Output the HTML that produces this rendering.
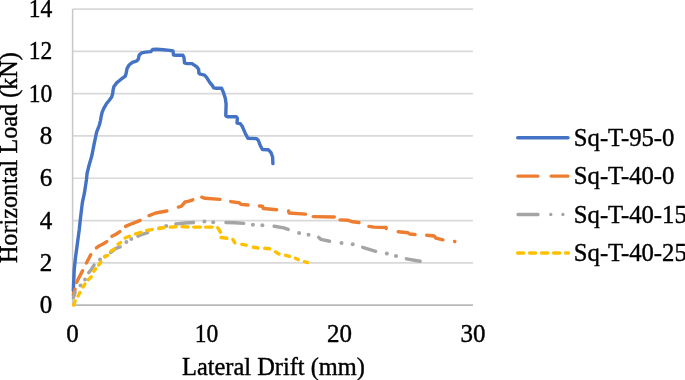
<!DOCTYPE html>
<html><head><meta charset="utf-8"><style>
html,body{margin:0;padding:0;background:#fff;}
svg{display:block;will-change:transform;}
text{font-family:"Liberation Serif",serif;font-size:25px;fill:#000;stroke:#000;stroke-width:0.4px;}
</style></head><body>
<svg width="685" height="380" viewBox="0 0 685 380">
<rect width="685" height="380" fill="#fff"/>
<g stroke="#d9d9d9" stroke-width="1.7"><line x1="72.6" y1="262.81" x2="472.9" y2="262.81"/><line x1="72.6" y1="220.53" x2="472.9" y2="220.53"/><line x1="72.6" y1="178.24" x2="472.9" y2="178.24"/><line x1="72.6" y1="135.96" x2="472.9" y2="135.96"/><line x1="72.6" y1="93.67" x2="472.9" y2="93.67"/><line x1="72.6" y1="51.39" x2="472.9" y2="51.39"/><line x1="72.6" y1="9.10" x2="472.9" y2="9.10"/></g>
<line x1="72.6" y1="305.1" x2="472.9" y2="305.1" stroke="#b8b8b8" stroke-width="1.75"/>
<line x1="72.6" y1="9.1" x2="72.6" y2="305.1" stroke="#c8c8c8" stroke-width="1.5"/>
<g fill="none" stroke-width="3.4" stroke-linejoin="round">
<polyline stroke="#4472c4" stroke-linecap="round" points="73.3,290.5 73.4,288.7 74.2,270 75.5,257.4 77.1,245.8 79.2,230 80.2,220.8 81.1,212.9 82.4,202.4 84.4,193.2 86.4,180 87.1,173.4 89,165.5 91.7,156.3 94.3,143.2 95.1,139.5 96.6,132.1 98.2,128.2 99.5,124.5 100.5,120.3 101.2,116.3 102.1,112.4 103.8,108.4 106.4,103.8 109.5,100 111.8,96.8 112.7,93.5 113.1,90 113.8,86.8 116.6,82.9 120.5,79.7 125.3,76.2 126.4,72.2 127.1,68.3 129.1,65 132.4,62.4 137,60.8 138.3,59.1 139.2,55.1 141.6,52.9 145.5,52.1 150.8,51.6 152.6,49.5 156.6,49.3 163.2,49.7 169.7,50.4 173,51 173.5,55 176.3,55.2 182.9,55.2 184,57.6 184.5,62.9 186.8,63.6 192.1,63.6 194.7,65.5 196.6,66.6 198.6,69.2 198.9,73.2 200.5,74.2 204.5,75.1 206.4,77.1 209.7,82.4 212.4,85.7 213.7,87.9 216.3,88.3 221.6,88.3 223.6,92.9 225.3,98.2 226.1,103.9 225.8,115.8 227.1,116.7 236.3,116.7 237.4,118.4 237,123 240.3,123.7 242.2,126.3 244.2,130.9 245.9,134.6 247.9,138.2 256.4,138.6 258.4,140.5 260.4,145.8 262.4,149.5 268.3,149.7 270.9,152.4 272.6,157 272.9,163.6"/>
</g>
<g stroke="#ed7d31" stroke-width="3.4" fill="none" stroke-linecap="round" stroke-linejoin="round"><polyline points="73.35,294.65 75.05,289.15"/><polyline points="76.54,282.43 79.50,276.50 82.63,270.66"/><polyline points="86.37,262.94 88.50,259.00 90.65,254.86"/><polyline points="96.37,247.99 99.50,245.70 103.00,244.00 106.78,241.64"/><polyline points="111.88,236.27 115.50,234.50 119.90,231.57"/><polyline points="125.50,226.43 132.90,223.30 140.18,220.44"/><polyline points="149.02,215.57 155.80,213.00 166.82,211.01"/><polyline points="178.37,207.04 181.20,206.40 185.10,202.00 189.00,201.10 192.77,199.79"/><polyline points="201.74,197.19 205.00,198.30 220.00,199.41"/><polyline points="230.69,201.56 239.20,202.70 240.90,204.40 248.00,205.00"/><polyline points="259.30,206.01 262.50,206.30 263.40,208.50 276.60,209.69"/><polyline points="288.56,210.97 289.00,213.00 305.50,214.12"/><polyline points="313.20,216.62 334.30,216.98"/><polyline points="340.00,219.86 348.40,220.30 352.80,221.80 359.01,222.56"/><polyline points="368.89,226.38 373.80,227.10 386.00,227.50 386.25,228.52"/><polyline points="398.19,231.72 408.00,232.70 409.60,234.00 415.00,234.49"/><polyline points="426.69,235.22 434.30,236.00 435.90,238.20 442.93,239.83"/><polyline points="454.49,241.45 454.85,241.53"/></g>
<g stroke="#a5a5a5" stroke-width="3.4" fill="none" stroke-linecap="round" stroke-linejoin="round"><polyline points="73.36,297.85 75.14,292.15"/><circle cx="80.5" cy="285.5" r="2" fill="#a5a5a5" stroke="none"/><circle cx="85" cy="279.5" r="2" fill="#a5a5a5" stroke="none"/><polyline points="88.76,272.57 91.30,269.50 94.07,265.02"/><circle cx="100" cy="259.6" r="2" fill="#a5a5a5" stroke="none"/><circle cx="105.2" cy="256.6" r="2" fill="#a5a5a5" stroke="none"/><polyline points="110.48,252.60 113.00,250.80 116.00,248.30 120.26,246.96"/><circle cx="126.4" cy="241.9" r="2" fill="#a5a5a5" stroke="none"/><circle cx="131.3" cy="239.1" r="2" fill="#a5a5a5" stroke="none"/><polyline points="137.91,236.15 142.00,234.50 147.66,232.58"/><circle cx="159.8" cy="228.3" r="2" fill="#a5a5a5" stroke="none"/><circle cx="166.2" cy="226.1" r="2" fill="#a5a5a5" stroke="none"/><polyline points="175.79,223.97 185.00,223.00 193.60,222.47"/><circle cx="204.4" cy="221.4" r="2" fill="#a5a5a5" stroke="none"/><circle cx="213.2" cy="222.2" r="2" fill="#a5a5a5" stroke="none"/><polyline points="225.90,222.45 235.00,222.80 243.70,223.33"/><circle cx="252.9" cy="224.8" r="2" fill="#a5a5a5" stroke="none"/><circle cx="262.4" cy="225.3" r="2" fill="#a5a5a5" stroke="none"/><polyline points="274.08,226.21 283.80,227.90 288.17,229.41"/><circle cx="299.1" cy="233.1" r="2" fill="#a5a5a5" stroke="none"/><circle cx="308.5" cy="234.8" r="2" fill="#a5a5a5" stroke="none"/><polyline points="318.62,237.38 321.00,239.40 329.63,241.25"/><circle cx="341.5" cy="243.1" r="2" fill="#a5a5a5" stroke="none"/><circle cx="352.7" cy="244.2" r="2" fill="#a5a5a5" stroke="none"/><polyline points="362.65,247.35 375.65,251.35"/><circle cx="386.8" cy="253.6" r="2" fill="#a5a5a5" stroke="none"/><circle cx="396" cy="256.1" r="2" fill="#a5a5a5" stroke="none"/><polyline points="406.38,258.80 420.22,261.20"/></g>
<g stroke="#ffc000" stroke-width="3.4" fill="none" stroke-linecap="round" stroke-linejoin="round"><polyline points="73.62,305.17 75.18,300.93"/><polyline points="78.07,295.95 79.93,292.55"/><polyline points="83.12,286.97 84.88,284.03"/><polyline points="88.18,279.69 91.32,276.81"/><polyline points="93.79,271.10 95.71,268.90"/><polyline points="98.69,265.02 100.81,261.98"/><polyline points="104.79,256.70 107.61,255.40"/><polyline points="111.12,251.06 114.18,249.14"/><polyline points="118.03,244.18 120.57,242.62"/><polyline points="125.02,237.96 129.38,236.24"/><polyline points="135.47,233.82 141.03,232.48"/><polyline points="146.79,230.42 152.11,229.58"/><polyline points="158.58,228.49 164.02,227.51"/><polyline points="170.20,227.13 176.00,226.77"/><polyline points="181.90,226.66 188.00,226.94"/><polyline points="193.70,227.10 200.40,227.10"/><polyline points="205.60,227.10 212.20,227.10"/><polyline points="217.70,227.68 219.00,229.50 220.37,232.32"/><polyline points="220.99,237.55 226.81,238.25"/><polyline points="232.89,239.53 233.50,240.50 234.88,242.77"/><polyline points="241.78,244.41 246.22,245.19"/><polyline points="253.28,247.20 258.02,248.00"/><polyline points="264.69,248.31 269.61,248.79"/><polyline points="275.52,251.83 278.98,253.97"/><polyline points="285.56,255.30 289.54,256.30"/><polyline points="295.30,258.29 298.30,259.61"/><polyline points="304.45,261.64 307.65,262.56"/></g>
<text x="52.3" y="313.10" text-anchor="end">0</text><text x="52.3" y="270.81" text-anchor="end">2</text><text x="52.3" y="228.53" text-anchor="end">4</text><text x="52.3" y="186.24" text-anchor="end">6</text><text x="52.3" y="143.96" text-anchor="end">8</text><text transform="translate(52.3,101.67) scale(0.94,1)" text-anchor="end">10</text><text transform="translate(52.3,59.39) scale(0.94,1)" text-anchor="end">12</text><text transform="translate(52.3,17.10) scale(0.94,1)" text-anchor="end">14</text>
<text x="72.60" y="341.5" text-anchor="middle">0</text><text transform="translate(206.43,341.5) scale(0.94,1)" text-anchor="middle">10</text><text x="339.47" y="341.5" text-anchor="middle">20</text><text x="472.90" y="341.5" text-anchor="middle">30</text>
<text x="182" y="374.8" style="font-size:24.4px">Lateral Drift (mm)</text>
<text transform="translate(17,263.1) rotate(-90)" style="font-size:24.2px">Horizontal Load (kN)</text>
<g fill="none" stroke-width="3.4" stroke-linecap="round">
<line x1="517.7" y1="137.7" x2="568" y2="137.7" stroke="#4472c4"/>
<line x1="517.9" y1="176.1" x2="568" y2="176.1" stroke="#ed7d31" stroke-dasharray="20 13.2"/>
<line x1="518" y1="214.5" x2="568" y2="214.5" stroke="#a5a5a5" stroke-dasharray="20 12.8 0.01 12.1 0.01 20"/>
<line x1="517.6" y1="253" x2="568.3" y2="253" stroke="#ffc000" stroke-dasharray="6.1 5.9"/>
</g>
<text transform="translate(573.8,145.5) scale(0.988,1)">Sq-T-95-0</text>
<text transform="translate(573.8,184) scale(0.988,1)">Sq-T-40-0</text>
<text transform="translate(573.8,222.5) scale(0.988,1)">Sq-T-40-15</text>
<text transform="translate(573.8,261) scale(0.988,1)">Sq-T-40-25</text>
</svg>
</body></html>
